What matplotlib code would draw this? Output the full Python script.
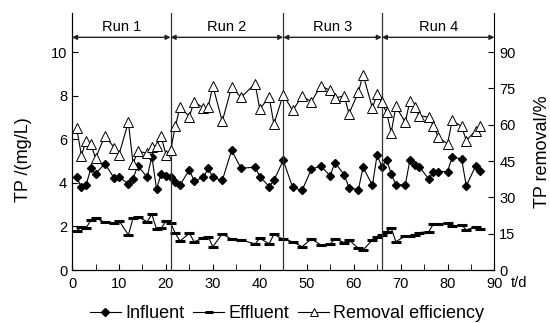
import matplotlib.pyplot as plt
from matplotlib.ticker import MultipleLocator

plt.rcParams['font.family'] = ['Liberation Sans', 'DejaVu Sans']

# sampling days
days = [1, 2, 3, 4, 5, 7, 9, 10, 12, 13, 14, 16, 17, 18, 19, 20, 21,
        22, 23, 25, 26, 28, 29, 30, 32, 34, 36, 39, 40, 42, 43, 45,
        47, 49, 51, 53, 55, 56, 58, 59, 61, 62, 64, 65, 66,
        67, 68, 69, 71, 72, 73, 74, 76, 77, 78, 80, 81, 83, 84, 86, 87]

influent = [4.25, 3.80, 3.90, 4.67, 4.42, 4.88, 4.21, 4.27, 3.96, 4.20, 4.79, 4.26, 5.21, 3.72, 4.42, 4.32, 4.26,
            4.03, 3.90, 4.60, 4.09, 4.25, 4.67, 4.25, 4.11, 5.49, 4.67, 4.72, 4.29, 3.83, 4.11, 5.03,
            3.80, 3.65, 4.63, 4.78, 4.32, 4.93, 4.37, 3.78, 3.68, 4.72, 3.89, 5.29, 4.72,
            5.06, 4.43, 3.91, 3.91, 5.06, 4.80, 4.75, 4.17, 4.52, 4.52, 4.52, 5.18, 5.10, 3.86, 4.78, 4.56]

effluent = [1.81, 1.96, 1.92, 2.30, 2.38, 2.19, 2.15, 2.27, 1.61, 2.38, 2.45, 2.22, 2.56, 1.87, 1.92, 2.25, 2.15,
            1.69, 1.33, 1.69, 1.30, 1.46, 1.53, 1.07, 1.66, 1.41, 1.38, 1.20, 1.46, 1.20, 1.64, 1.41,
            1.30, 1.07, 1.43, 1.15, 1.18, 1.43, 1.26, 1.38, 1.00, 0.92, 1.38, 1.50, 1.61,
            1.76, 1.92, 1.30, 1.56, 1.56, 1.60, 1.72, 1.76, 2.11, 2.11, 2.15, 2.02, 2.07, 1.84, 1.99, 1.87]

removal = [58.6, 47.3, 53.4, 52.1, 46.2, 55.4, 50.6, 47.6, 61.1, 43.9, 49.0, 48.3, 51.0, 51.3, 55.2, 47.6, 49.4,
           59.3, 67.3, 63.4, 69.6, 66.9, 67.2, 76.1, 61.4, 75.6, 71.3, 77.0, 66.5, 71.5, 60.3, 72.4,
           65.9, 71.7, 69.6, 76.1, 74.2, 71.0, 72.0, 64.6, 73.4, 80.7, 66.9, 72.7, 69.2,
           65.1, 56.8, 67.6, 61.0, 70.0, 67.3, 63.7, 63.2, 59.6, 54.9, 52.1, 61.8, 59.3, 53.5, 57.6, 59.6]

run_bounds = [0, 21, 45, 66, 90]
run_names = ['Run 1', 'Run 2', 'Run 3', 'Run 4']

fig = plt.figure(figsize=(5.5, 3.23), dpi=100)
ax = fig.add_axes([0.131, 0.164, 0.768, 0.796])
ax2 = ax.twinx()

ytop = 11.8
ax.set_xlim(0, 90)
ax.set_ylim(0, ytop)
ax2.set_ylim(0, ytop * 9)

l1, = ax.plot(days, influent, '-', color='black', lw=0.8, marker='D', ms=4.5,
              mfc='black', mec='black', label='Influent')
l2, = ax.plot(days, effluent, '-', color='black', lw=0.8, marker='_', ms=7, mew=2.2,
              label='Effluent')
l3, = ax2.plot(days, removal, '-', color='black', lw=0.8, marker='^', ms=6.5,
               mfc='white', mec='black', mew=0.7, label='Removal efficiency')

for b in run_bounds[1:-1]:
    ax.axvline(b, color='#333333', lw=0.9)

for i in range(4):
    x1, x2 = run_bounds[i], run_bounds[i + 1]
    ax.annotate('', xy=(x1, 10.68), xytext=(x2, 10.68),
                arrowprops=dict(arrowstyle='<|-|>', color='#222222', lw=1.0,
                                mutation_scale=7, shrinkA=0, shrinkB=0))
    ax.text((x1 + x2) / 2.0, 11.17, run_names[i], ha='center', va='center', fontsize=10.5)

for a in (ax, ax2):
    a.spines['top'].set_visible(False)
    a.tick_params(direction='in', labelsize=10.5, length=4)
ax.spines['right'].set_visible(False)

ax.set_yticks([0, 2, 4, 6, 8, 10])
ax2.set_yticks([0, 15, 30, 45, 60, 75, 90])
ax.xaxis.set_major_locator(MultipleLocator(10))
ax.xaxis.set_minor_locator(MultipleLocator(5))
ax.tick_params(axis='x', which='minor', direction='in', length=4)
ax.tick_params(axis='x', pad=5)

fig.text(0.0436, 0.505, 'TP /(mg/L)', rotation=90, ha='center', va='center', fontsize=13)
fig.text(0.986, 0.529, 'TP removal/%', rotation=90, ha='center', va='center', fontsize=13)
ax.text(1.058, -0.05, 't/d', transform=ax.transAxes, fontsize=10.5, ha='center', va='center')

fig.legend(handles=[l1, l2, l3], loc='center', ncol=3, frameon=False,
           bbox_to_anchor=(0.522, 0.028), fontsize=13, handlelength=1.7,
           handletextpad=0.25, columnspacing=0.5, markerscale=0.8)

fig.savefig('out.png', dpi=100)
